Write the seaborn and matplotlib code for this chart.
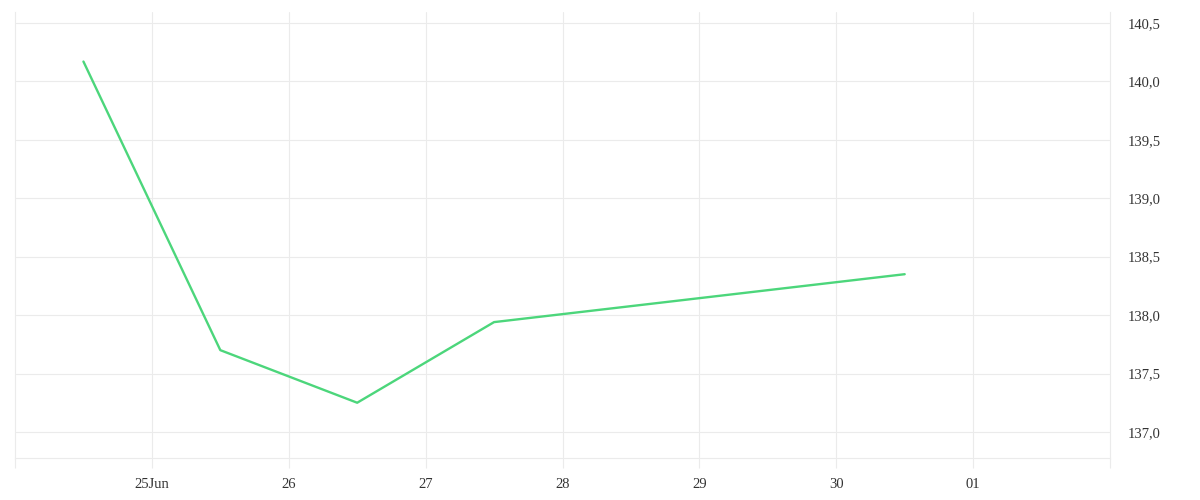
import matplotlib
matplotlib.use("Agg")
import matplotlib.pyplot as plt
import matplotlib.dates as mdates
from matplotlib.ticker import FuncFormatter, FixedLocator
import seaborn as sns
import pandas as pd

# data
times = ["2024-06-24 12:00", "2024-06-25 12:00", "2024-06-26 12:00",
         "2024-06-27 12:00", "2024-06-30 12:00"]
values = [140.17, 137.70, 137.25, 137.94, 138.35]
tick_dates = ["2024-06-25", "2024-06-26", "2024-06-27", "2024-06-28",
              "2024-06-29", "2024-06-30", "2024-07-01"]
tick_labels = ["25Jun", "26", "27", "28", "29", "30", "01"]
y_ticks = [137.0, 137.5, 138.0, 138.5, 139.0, 139.5, 140.0, 140.5]
x_range = ["2024-06-24", "2024-07-02"]
y_range = [136.777, 140.594]

df = pd.DataFrame({"time": pd.to_datetime(times), "value": values})

sns.set_style("white")
plt.rcParams["font.family"] = ["Liberation Serif", "DejaVu Serif"]

grid_c = "#ebebeb"
fig = plt.figure(figsize=(12, 5), dpi=100)
ax = fig.add_axes([0.0125, 0.084, 0.9125, 0.892])

sns.lineplot(data=df, x="time", y="value", ax=ax, color="#4cd67b", linewidth=1.7)

xr = pd.to_datetime(x_range)
ax.set_xlim(xr[0], xr[1])
ax.set_ylim(*y_range)

td = pd.to_datetime(tick_dates)
ax.set_xticks(td)
ax.set_xticklabels(tick_labels)
ax.xaxis.set_minor_locator(FixedLocator(mdates.date2num(xr)))

ax.set_yticks(y_ticks)
ax.yaxis.set_major_formatter(FuncFormatter(lambda v, p: f"{v:.1f}".replace(".", ",")))
ax.yaxis.tick_right()

ax.grid(True, color=grid_c, linewidth=0.8)
for s in ["left", "right", "bottom"]:
    ax.spines[s].set_color(grid_c)
    ax.spines[s].set_linewidth(0.8)
ax.spines["top"].set_visible(False)

ax.tick_params(axis="x", which="both", bottom=True, direction="out", length=7.5,
               color=grid_c, width=0.8, labelsize=10.5, labelcolor="#333333", pad=7)
ax.tick_params(axis="y", length=0, labelsize=10.5, labelcolor="#333333", pad=13)
for lab in ax.get_yticklabels():
    lab.set_horizontalalignment("left")
ax.set_xlabel("")
ax.set_ylabel("")

fig.savefig("out.png", dpi=100, facecolor="white")
